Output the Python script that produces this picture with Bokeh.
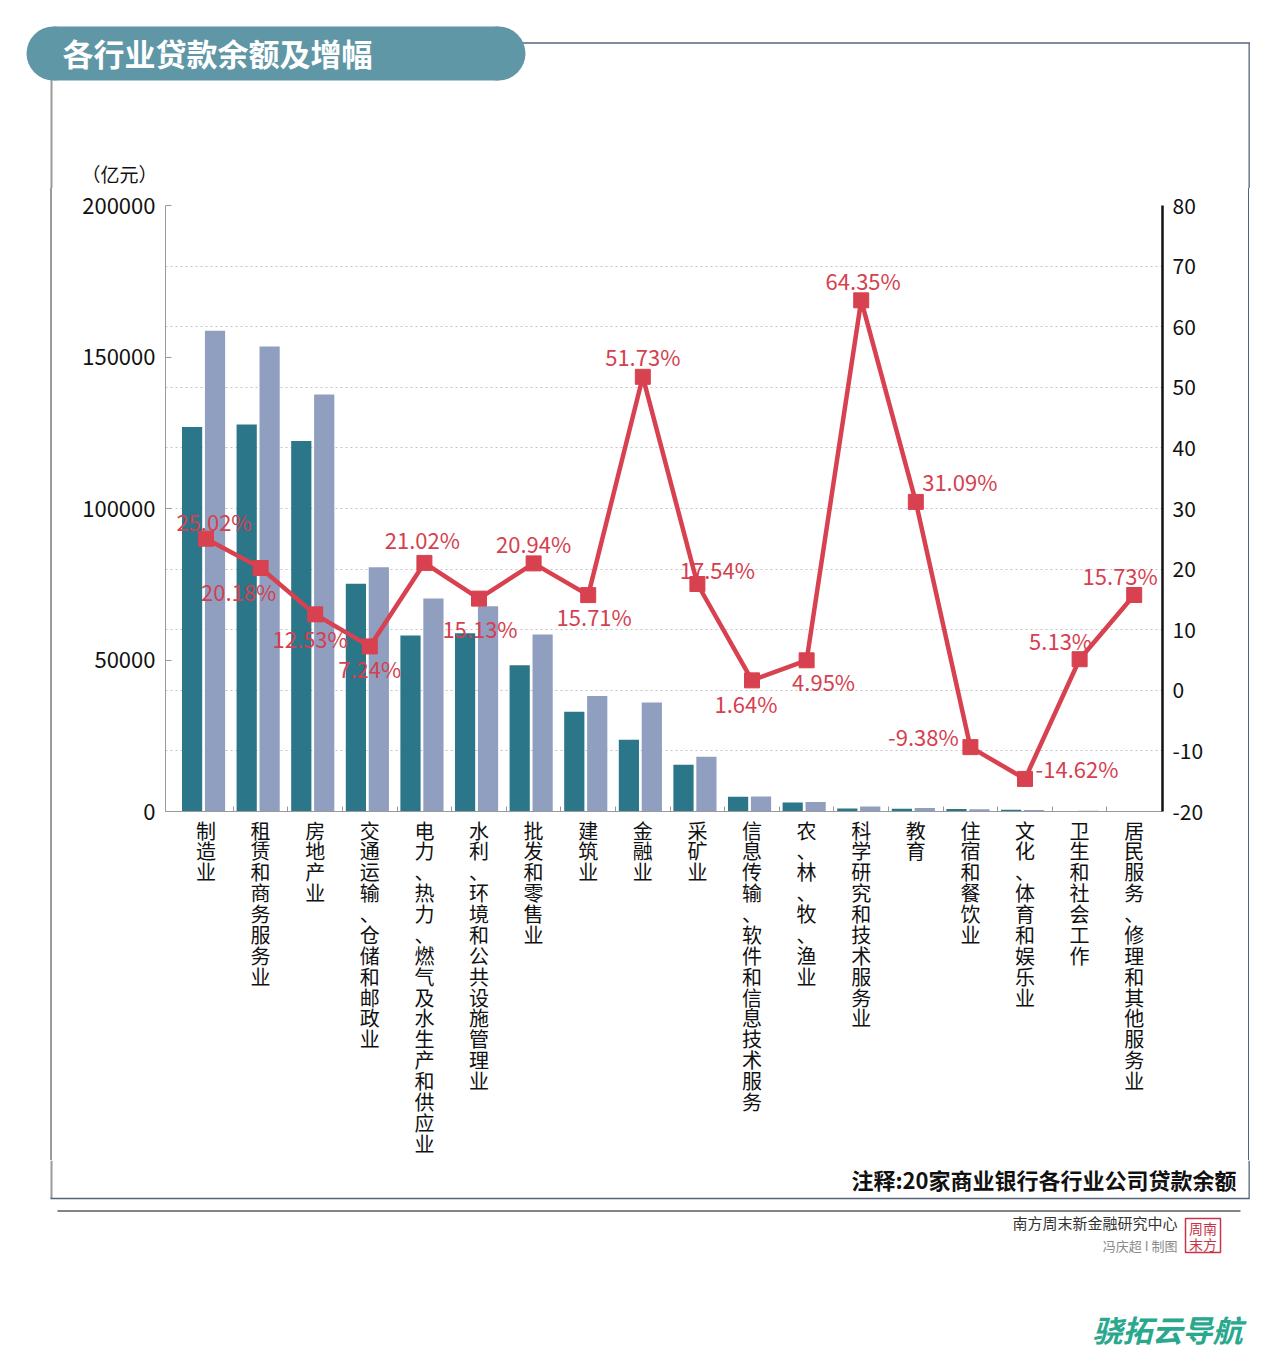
from bokeh.plotting import figure
from bokeh.models import (Range1d, LinearAxis, FixedTicker, Grid, ColumnDataSource,
                          LabelSet, Div)
from bokeh.layouts import column, row
from bokeh.core.properties import value
from bokeh.embed import file_html
from bokeh.resources import INLINE

# ---------------- data ----------------
categories = ["制造业", "租赁和商务服务业", "房地产业", "交通运输、仓储和邮政业",
              "电力、热力、燃气及水生产和供应业", "水利、环境和公共设施管理业", "批发和零售业",
              "建筑业", "金融业", "采矿业", "信息传输、软件和信息技术服务", "农、林、牧、渔业",
              "科学研究和技术服务业", "教育", "住宿和餐饮业", "文化、体育和娱乐业",
              "卫生和社会工作", "居民服务、修理和其他服务业"]
loans_prev = [126900, 127700, 122300, 75200, 58100, 58800, 48300, 32900, 23700, 15400,
              4900, 2950, 1000, 900, 800, 600, 200, 100]
loans_curr = [158650, 153470, 137600, 80650, 70300, 67700, 58400, 38100, 36000, 18100,
              4980, 3100, 1640, 1180, 725, 512, 210, 116]
growth = [25.02, 20.18, 12.53, 7.24, 21.02, 15.13, 20.94, 15.71, 51.73, 17.54,
          1.64, 4.95, 64.35, 31.09, -9.38, -14.62, 5.13, 15.73]
growth_labels = ["25.02%", "20.18%", "12.53%", "7.24%", "21.02%", "15.13%", "20.94%",
                 "15.71%", "51.73%", "17.54%", "1.64%", "4.95%", "64.35%", "31.09%",
                 "-9.38%", "-14.62%", "5.13%", "15.73%"]
left_ticks = [0, 50000, 100000, 150000, 200000]
right_ticks = [-20, -10, 0, 10, 20, 30, 40, 50, 60, 70, 80]

title_text = "各行业贷款余额及增幅"
unit_text = "（亿元）"
note_text = "注释:20家商业银行各行业公司贷款余额"
credit_text = "南方周末新金融研究中心"
author_text = "冯庆超 I 制图"
watermark_text = "骁拓云导航"

# label placement (pixels, style only; positive dy = above marker)
label_dx = [8, -22, -5, 0, -2, 1, 0, 6, 0, 20, -6, 17, 2, 44, -47, 52, -19, -14]
label_dy = [18, -23, -24, -22, 24, -29, 20, -21, 21, 15, -23, -21, 20, 21, 11, 11, 19, 20]

FONT = "Noto Sans CJK SC"
DARK = "#2b7688"
LIGHT = "#909ec0"
RED = "#d8414f"
BOX_DARK = "#56647a"
BOX_GRAY = "#9a9a9a"

idx = list(range(len(categories)))

# page geometry (px)
PW = 1264
TOP_H = 188          # page rows 0..188
MID_H = 972          # page rows 188..1160
BOT_H = 192          # page rows 1160..1352
LEFT_W = 52
RIGHT_W = 16
MID_W = PW - LEFT_W - RIGHT_W
FL, FR, FT, FB = 165, 1162, 205, 814   # chart frame edges (page px)


def deco_fig(w, h):
    f = figure(width=w, height=h, x_range=Range1d(0, w), y_range=Range1d(h, 0),
               x_axis_type=None, y_axis_type=None, output_backend="svg",
               toolbar_location=None, min_border=0)
    f.outline_line_color = None
    f.background_fill_color = "white"
    f.border_fill_color = "white"
    f.grid.visible = False
    return f


def txt(f, x, y, t, size, color="#111111", align="left", style="normal"):
    f.text(x=[x], y=[y], text=[t], text_font=value(FONT), text_font_size=value(size),
           text_color=color, text_align=align, text_baseline="middle",
           text_font_style=style)


# ---------------- top strip ----------------
top = deco_fig(PW, TOP_H)
top.segment(x0=[51], y0=[42.5], x1=[1249.5], y1=[42.5], line_color=BOX_DARK, line_width=1.3)
top.segment(x0=[1248.65], y0=[42.5], x1=[1248.65], y1=[TOP_H], line_color=BOX_DARK,
            line_width=1.3)
top.segment(x0=[51], y0=[42.5], x1=[51], y1=[TOP_H], line_color=BOX_GRAY, line_width=2)
top.quad(left=[53], right=[498], top=[26], bottom=[80], fill_color="#5f97a6",
         line_color=None)
top.circle(x=[53, 498], y=[53, 53], radius=27, fill_color="#5f97a6", line_color=None)
txt(top, 62, 52, title_text, "31px", color="white", style="bold")
txt(top, 119, 173, unit_text, "19px", align="center")

# ---------------- side strips (plain boxes with one border) ----------------
left = Div(text="", width=LEFT_W, height=MID_H, margin=0,
           styles={"box-sizing": "border-box", "border-right": f"2px solid {BOX_GRAY}",
                   "padding": "0px"})
right = Div(text="", width=RIGHT_W, height=MID_H, margin=0,
            styles={"box-sizing": "border-box", "border-left": f"1.3px solid {BOX_DARK}",
                    "padding": "0px"})

# ---------------- chart ----------------
p = figure(width=MID_W, height=MID_H, x_range=Range1d(-0.742, 17.518),
           y_range=Range1d(0, 200000), output_backend="svg", toolbar_location=None,
           min_border_left=FL - LEFT_W, min_border_right=(LEFT_W + MID_W) - FR,
           min_border_top=FT - TOP_H, min_border_bottom=(TOP_H + MID_H) - FB)
p.outline_line_color = None
p.background_fill_color = "white"
p.border_fill_color = "white"
p.xgrid.visible = False
p.ygrid.visible = False

ya = p.yaxis[0]
ya.ticker = FixedTicker(ticks=left_ticks, minor_ticks=[])
ya.major_label_overrides = {v: str(v) for v in left_ticks}
ya.axis_line_color = BOX_GRAY
ya.major_tick_line_color = BOX_GRAY
ya.major_tick_in = 6
ya.major_tick_out = 0
ya.minor_tick_line_color = None
ya.major_label_standoff = 10
ya.major_label_text_font = FONT
ya.major_label_text_font_size = "22px"
ya.major_label_text_color = "#111111"

xa = p.xaxis[0]
xa.ticker = FixedTicker(ticks=idx, minor_ticks=[i + 0.5 for i in idx[:-1]])
xa.major_label_overrides = {i: "\n".join(name) for i, name in zip(idx, categories)}
xa.axis_line_color = BOX_GRAY
xa.minor_tick_line_color = BOX_GRAY
xa.minor_tick_in = 5
xa.minor_tick_out = 0
xa.major_tick_line_color = None
xa.major_tick_in = 0
xa.major_tick_out = 0
xa.major_label_standoff = 4
xa.major_label_text_font = FONT
xa.major_label_text_font_size = "20px"
xa.major_label_text_line_height = 0.72
xa.major_label_text_color = "#111111"
xa.major_label_orientation = "horizontal"

p.extra_y_ranges = {"right": Range1d(-20, 80)}
ra = LinearAxis(y_range_name="right", ticker=FixedTicker(ticks=right_ticks, minor_ticks=[]))
ra.major_label_overrides = {v: str(v) for v in right_ticks}
ra.axis_line_color = "#111111"
ra.axis_line_width = 2.5
ra.major_tick_line_color = None
ra.minor_tick_line_color = None
ra.major_tick_out = 0
ra.major_label_standoff = 10
ra.major_label_text_font = FONT
ra.major_label_text_font_size = "21px"
ra.major_label_text_color = "#111111"
p.add_layout(ra, "right")

grid = Grid(dimension=1, ticker=FixedTicker(ticks=right_ticks[1:]), y_range_name="right",
            grid_line_color="#c4c4c4", grid_line_dash="2 3", grid_line_width=1)
p.add_layout(grid, "center")

src = ColumnDataSource(dict(x=idx, g=growth, gl=growth_labels, dx=label_dx, dy=label_dy))
p.vbar(x=[i - 0.255 for i in idx], top=loans_prev, width=0.37, fill_color=DARK,
       line_color=None)
p.vbar(x=[i + 0.165 for i in idx], top=loans_curr, width=0.37, fill_color=LIGHT,
       line_color=None)

p.line("x", "g", source=src, y_range_name="right", line_color=RED, line_width=4.5)
p.scatter("x", "g", source=src, y_range_name="right", marker="square", size=15,
          fill_color=RED, line_color=RED)
p.add_layout(LabelSet(x="x", y="g", text="gl", source=src, y_range_name="right",
                      x_offset="dx", y_offset="dy", text_align="center",
                      text_baseline="middle", text_font=value(FONT),
                      text_font_size=value("22px"), text_color=value("#d63f4f")))

# ---------------- bottom strip ----------------
bot = deco_fig(PW, BOT_H)
Y0 = TOP_H + MID_H
bot.segment(x0=[51], y0=[0], x1=[51], y1=[1198 - Y0], line_color=BOX_GRAY, line_width=2)
bot.segment(x0=[1248.65], y0=[0], x1=[1248.65], y1=[1198 - Y0], line_color=BOX_DARK,
            line_width=1.3)
bot.segment(x0=[50], y0=[1198 - Y0], x1=[1249.3], y1=[1198 - Y0], line_color=BOX_DARK,
            line_width=1.3)
bot.segment(x0=[57], y0=[1210.5 - Y0], x1=[1240], y1=[1210.5 - Y0], line_color="#5a5a5a",
            line_width=1.6)
txt(bot, 1236, 1178 - Y0, note_text, "22px", align="right", style="bold")
txt(bot, 1177, 1222 - Y0, credit_text, "15px", color="#333333", align="right")
txt(bot, 1177, 1245 - Y0, author_text, "13px", color="#8a8a8a", align="right")
bot.quad(left=[1185], right=[1220], top=[1218 - Y0], bottom=[1252 - Y0], fill_color=None,
         line_color="#c8344a", line_width=1.5)
txt(bot, 1202.5, 1227 - Y0, "周南", "14px", color="#c8344a", align="center")
txt(bot, 1202.5, 1243 - Y0, "末方", "14px", color="#c8344a", align="center")
txt(bot, 1242, 1328 - Y0, watermark_text, "30px", color="#2aa88e", align="right",
    style="bold italic")

layout = column(top, row(left, p, right), bot)
open("out.html", "w").write(file_html(layout, INLINE))
